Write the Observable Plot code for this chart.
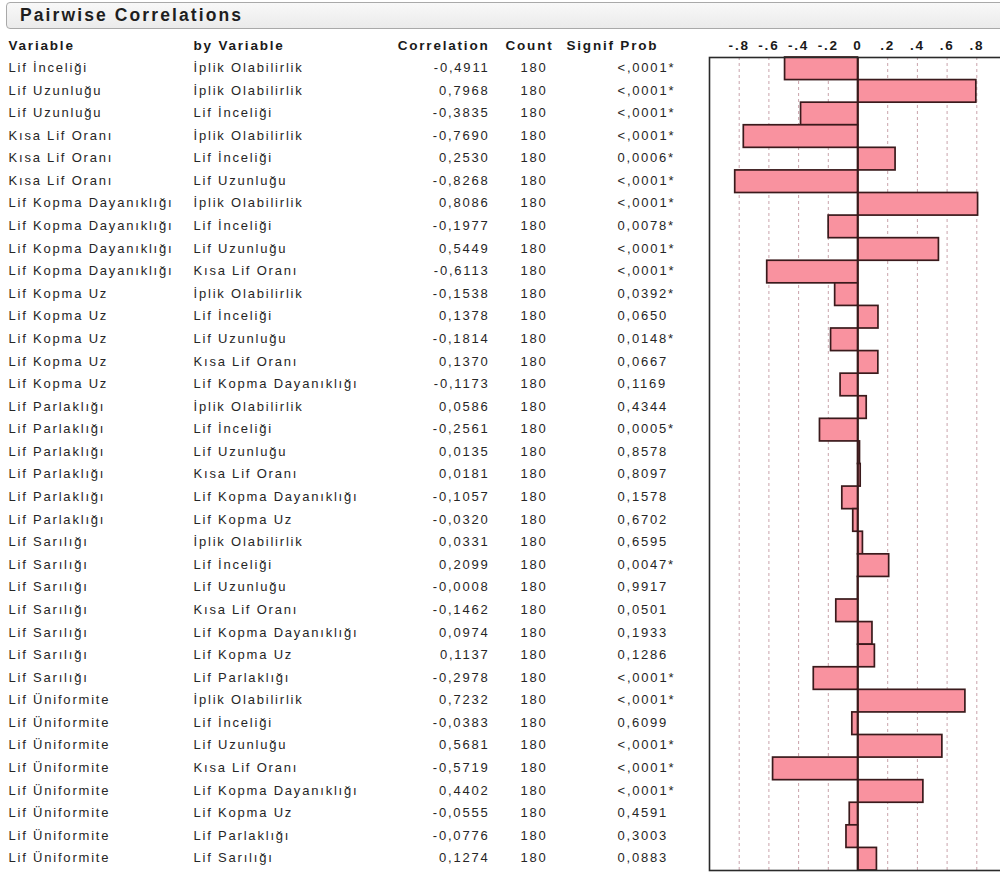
<!DOCTYPE html>
<html><head><meta charset="utf-8">
<script src="https://cdn.jsdelivr.net/npm/d3@7"></script>
<script src="https://cdn.jsdelivr.net/npm/@observablehq/plot@0.6"></script>
<style>
body{margin:0;background:#fff;width:1000px;height:875px;overflow:hidden;font-family:"Liberation Sans",Arial,sans-serif;}
#title{position:absolute;left:6px;top:2px;width:1010px;height:27px;border:1px solid #a9a9a9;border-radius:4px;background:linear-gradient(#f8f8f8,#ebebeb);box-sizing:border-box;}
#title span{position:absolute;left:13px;top:2px;font-weight:bold;font-size:17.5px;letter-spacing:2.1px;color:#1e1e1e;}
#chart{position:absolute;left:0;top:30px;}
#chart text{letter-spacing:1.8px;}
#chart g[aria-label="count"] text{letter-spacing:0.2px;}
#chart g[aria-label="corr"] text{letter-spacing:2.2px;}
#chart g[aria-label="prob"] text{letter-spacing:1.8px;}
#chart g[aria-label="hdr"] text{letter-spacing:1.9px;}
</style></head><body>
<div id="title"><span>Pairwise Correlations</span></div>
<div id="chart"></div>
<script>
const variables = [
"Lif İnceliği","Lif Uzunluğu","Lif Uzunluğu","Kısa Lif Oranı","Kısa Lif Oranı","Kısa Lif Oranı",
"Lif Kopma Dayanıklığı","Lif Kopma Dayanıklığı","Lif Kopma Dayanıklığı","Lif Kopma Dayanıklığı",
"Lif Kopma Uz","Lif Kopma Uz","Lif Kopma Uz","Lif Kopma Uz","Lif Kopma Uz",
"Lif Parlaklığı","Lif Parlaklığı","Lif Parlaklığı","Lif Parlaklığı","Lif Parlaklığı","Lif Parlaklığı",
"Lif Sarılığı","Lif Sarılığı","Lif Sarılığı","Lif Sarılığı","Lif Sarılığı","Lif Sarılığı","Lif Sarılığı",
"Lif Üniformite","Lif Üniformite","Lif Üniformite","Lif Üniformite","Lif Üniformite","Lif Üniformite","Lif Üniformite","Lif Üniformite"];
const byVariables = [
"İplik Olabilirlik","İplik Olabilirlik","Lif İnceliği","İplik Olabilirlik","Lif İnceliği","Lif Uzunluğu",
"İplik Olabilirlik","Lif İnceliği","Lif Uzunluğu","Kısa Lif Oranı",
"İplik Olabilirlik","Lif İnceliği","Lif Uzunluğu","Kısa Lif Oranı","Lif Kopma Dayanıklığı",
"İplik Olabilirlik","Lif İnceliği","Lif Uzunluğu","Kısa Lif Oranı","Lif Kopma Dayanıklığı","Lif Kopma Uz",
"İplik Olabilirlik","Lif İnceliği","Lif Uzunluğu","Kısa Lif Oranı","Lif Kopma Dayanıklığı","Lif Kopma Uz","Lif Parlaklığı",
"İplik Olabilirlik","Lif İnceliği","Lif Uzunluğu","Kısa Lif Oranı","Lif Kopma Dayanıklığı","Lif Kopma Uz","Lif Parlaklığı","Lif Sarılığı"];
const correlations = [
-0.4911,0.7968,-0.3835,-0.7690,0.2530,-0.8268,
0.8086,-0.1977,0.5449,-0.6113,
-0.1538,0.1378,-0.1814,0.1370,-0.1173,
0.0586,-0.2561,0.0135,0.0181,-0.1057,-0.0320,
0.0331,0.2099,-0.0008,-0.1462,0.0974,0.1137,-0.2978,
0.7232,-0.0383,0.5681,-0.5719,0.4402,-0.0555,-0.0776,0.1274];
const counts = Array(36).fill(180);
const signifProbs = [
"<,0001*","<,0001*","<,0001*","<,0001*","0,0006*","<,0001*",
"<,0001*","0,0078*","<,0001*","<,0001*",
"0,0392*","0,0650","0,0148*","0,0667","0,1169",
"0,4344","0,0005*","0,8578","0,8097","0,1578","0,6702",
"0,6595","0,0047*","0,9917","0,0501","0,1933","0,1286","<,0001*",
"<,0001*","0,6099","<,0001*","<,0001*","<,0001*","0,4591","0,3003","0,0883"];
const xTicks = [-0.8,-0.6,-0.4,-0.2,0,0.2,0.4,0.6,0.8];
const xTickLabels = ["-.8","-.6","-.4","-.2","0",".2",".4",".6",".8"];
const headers = ["Variable","by Variable","Correlation","Count","Signif Prob"];

const rows = correlations.map((r,i)=>({
  i, variable: variables[i], by: byVariables[i], r,
  rText: r.toFixed(4).replace(".", ","), count: String(counts[i]), p: signifProbs[i]
}));

const ML = 709;
const body = {y:"i", frameAnchor:"left", fontSize:13, fill:"#262626", dy:-1};
const hdr = {frameAnchor:"top-left", dy:-12, lineAnchor:"middle", fontSize:13.5, fontWeight:"bold", fill:"#1a1a1a", ariaLabel:"hdr"};
const headerDefs = [
  {t:headers[0], x:8, a:"start"},
  {t:headers[1], x:193, a:"start"},
  {t:headers[2], x:489, a:"end"},
  {t:headers[3], x:553, a:"end"},
  {t:headers[4], x:566, a:"start"}
];

const plot = Plot.plot({
  width:1000, height:845,
  marginLeft:ML, marginRight:-6, marginTop:27, marginBottom:5,
  style:{fontFamily:"'Liberation Sans', Arial, sans-serif", background:"transparent"},
  x:{domain:[-1,1], axis:null},
  y:{type:"band", domain:d3.range(36), padding:0, round:false, axis:null},
  marks:[
    Plot.ruleX(xTicks.filter(d=>d!==0), {stroke:"#c9a3ab", strokeDasharray:"3,3", strokeWidth:1}),
    Plot.barX(rows, {x1:0, x2:"r", y:"i", fill:"#f9929f", stroke:"#3a1a1c", strokeWidth:1.7}),
    Plot.ruleX([0], {stroke:"#3a1a1c", strokeWidth:1.7}),
    Plot.frame({stroke:"#2a2a2a", strokeWidth:1.6}),
    Plot.text(xTicks, {x:d=>d, text:(d,i)=>xTickLabels[i], frameAnchor:"top", dy:-12, lineAnchor:"middle", fontSize:13.5, fontWeight:"bold", fill:"#1a1a1a", ariaLabel:"hdr"}),
    ...headerDefs.map(h=>Plot.text([h.t], {...hdr, text:d=>d, dx:h.x-ML, textAnchor:h.a})),
    Plot.text(rows, {...body, text:"variable", dx:8-ML, textAnchor:"start", ariaLabel:"var"}),
    Plot.text(rows, {...body, text:"by", dx:193-ML, textAnchor:"start", ariaLabel:"by"}),
    Plot.text(rows, {...body, text:"rText", dx:489-ML, textAnchor:"end", ariaLabel:"corr"}),
    Plot.text(rows, {...body, text:"count", dx:547-ML, textAnchor:"end", ariaLabel:"count"}),
    Plot.text(rows, {...body, text:"p", dx:617-ML, textAnchor:"start", ariaLabel:"prob"})
  ]
});
document.getElementById("chart").appendChild(plot);
</script>
</body></html>
